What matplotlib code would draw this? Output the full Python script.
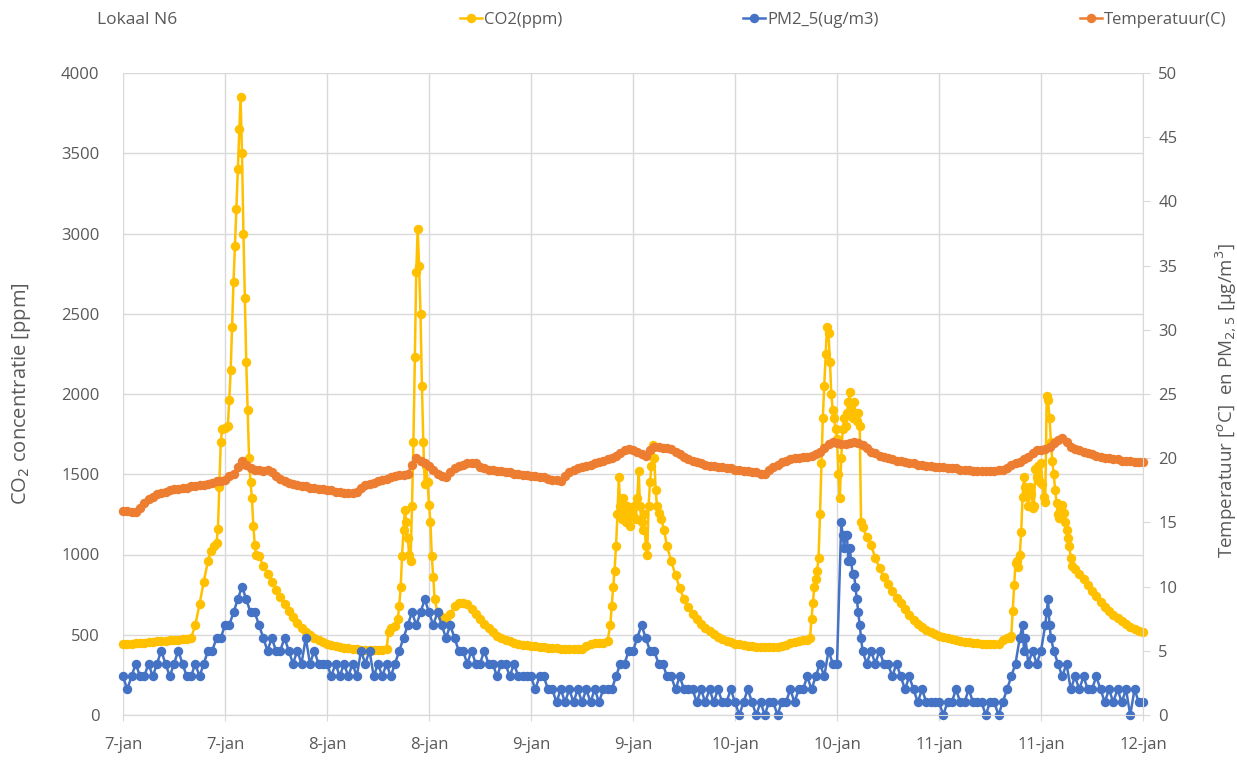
import numpy as np
import matplotlib
matplotlib.use("Agg")
import matplotlib.pyplot as plt

plt.rcParams['font.family'] = ['Open Sans', 'DejaVu Sans']

# hours since 7-jan 00:00
tick_labels = ['7-jan', '7-jan', '8-jan', '8-jan', '9-jan', '9-jan',
               '10-jan', '10-jan', '11-jan', '11-jan', '12-jan']

# temperature (C), every 30 minutes
temp_day1 = [15.9, 15.9, 15.8, 15.8, 16.1, 16.5, 16.8, 17.0, 17.2, 17.3,
             17.4, 17.5, 17.6, 17.6, 17.7, 17.7, 17.8, 17.8, 17.9, 17.9,
             18.0, 18.1, 18.2, 18.2, 18.3, 18.6, 18.8, 19.3, 19.8, 19.5,
             19.2, 19.1, 19.1, 19.0, 19.1, 18.9, 18.6, 18.4, 18.2, 18.1,
             18.0, 17.9, 17.8, 17.8, 17.7, 17.7, 17.6, 17.6]
temp_day2 = [17.5, 17.5, 17.4, 17.4, 17.3, 17.3, 17.3, 17.4, 17.7, 17.9,
             18.0, 18.1, 18.2, 18.3, 18.4, 18.5, 18.6, 18.7, 18.7, 18.8,
             19.5, 20.0, 19.8, 19.6, 19.4, 19.1, 18.8, 18.6, 18.5, 18.9,
             19.2, 19.4, 19.5, 19.6, 19.6, 19.6, 19.3, 19.2, 19.1, 19.1,
             19.0, 19.0, 18.9, 18.9, 18.8, 18.8, 18.7, 18.7]
temp_day3 = [18.6, 18.6, 18.5, 18.5, 18.4, 18.3, 18.3, 18.2, 18.6, 18.9,
             19.1, 19.2, 19.3, 19.4, 19.5, 19.6, 19.7, 19.8, 19.9, 20.0,
             20.2, 20.4, 20.6, 20.7, 20.6, 20.5, 20.3, 20.2, 20.6, 20.9,
             20.9, 20.8, 20.8, 20.7, 20.5, 20.3, 20.1, 19.9, 19.8, 19.7,
             19.6, 19.5, 19.4, 19.4, 19.3, 19.3, 19.2, 19.2]
temp_day4 = [19.1, 19.1, 19.0, 19.0, 18.9, 18.9, 18.8, 18.8, 19.1, 19.3,
             19.5, 19.7, 19.8, 19.9, 20.0, 20.0, 20.1, 20.1, 20.2, 20.3,
             20.5, 20.8, 21.1, 21.3, 21.2, 21.1, 21.1, 21.2, 21.3, 21.2,
             21.0, 20.8, 20.5, 20.4, 20.2, 20.1, 20.0, 19.9, 19.8, 19.8,
             19.7, 19.6, 19.6, 19.5, 19.5, 19.4, 19.4, 19.3]
temp_day5 = [19.3, 19.3, 19.2, 19.2, 19.2, 19.1, 19.1, 19.1, 19.0, 19.0,
             19.0, 19.0, 19.0, 19.0, 19.1, 19.1, 19.2, 19.5, 19.6, 19.7,
             19.9, 20.1, 20.4, 20.6, 20.6, 20.7, 20.9, 21.2, 21.4, 21.6,
             21.3, 20.9, 20.7, 20.6, 20.5, 20.4, 20.3, 20.2, 20.1, 20.0,
             20.0, 19.9, 19.9, 19.8, 19.8, 19.8, 19.7, 19.7, 19.7]

# PM2.5 (ug/m3), every 30 minutes
pm_day1 = [3, 2, 3, 4, 3, 3, 4, 3, 4, 5, 4, 3, 4, 5, 4, 3, 3, 4, 3, 4,
           5, 5, 6, 6, 7, 7, 8, 9, 10, 9, 8, 8, 7, 6, 5, 6, 5, 5, 6, 5,
           4, 5, 4, 6, 4, 5, 4, 4]
pm_day2 = [4, 3, 4, 3, 4, 3, 4, 3, 5, 4, 5, 3, 4, 3, 4, 3, 4, 5, 6, 7,
           8, 7, 8, 9, 8, 7, 8, 7, 6, 7, 6, 5, 5, 4, 5, 4, 4, 5, 4, 4,
           3, 4, 4, 3, 4, 3, 3, 3]
pm_day3 = [3, 2, 3, 3, 2, 2, 1, 2, 1, 2, 1, 2, 1, 2, 1, 2, 1, 2, 2, 2,
           3, 4, 4, 5, 5, 6, 7, 6, 5, 5, 4, 4, 3, 3, 2, 3, 2, 2, 2, 1,
           2, 1, 2, 1, 2, 1, 1, 2]
pm_day4 = [1, 0, 1, 2, 1, 0, 1, 0, 1, 1, 0, 1, 1, 2, 1, 2, 2, 3, 2, 3,
           4, 3, 5, 4, 4, 15, 14, 13, 11, 8, 5, 4, 5, 4, 5, 4, 4, 3, 4, 3,
           2, 3, 2, 1, 2, 1, 1, 1]
pm_day5 = [1, 0, 1, 1, 2, 1, 1, 2, 1, 1, 1, 0, 1, 1, 0, 1, 2, 3, 4, 6,
           5, 4, 5, 4, 5, 7, 7, 5, 4, 3, 4, 2, 3, 2, 3, 2, 2, 3, 2, 1,
           2, 1, 2, 1, 2, 0, 2, 1, 1]
# extra readings around the fast PM changes (hour, value)
pm_extra = [(84.67, 14), (84.83, 13), (85.17, 14), (85.33, 12), (85.67, 12),
            (85.83, 11), (86.17, 10), (86.33, 9), (86.67, 7), (86.83, 6),
            (105.83, 7), (106.17, 6), (108.67, 8), (108.83, 9), (109.17, 6)]

# CO2 (ppm), (hour, value)
co2_day1 = [(0, 440), (0.5, 442), (1, 444), (1.5, 446), (2, 448), (2.5, 450), (3, 452), (3.5, 455),
            (4, 458), (4.5, 460), (5, 463), (5.5, 465), (6, 468), (6.5, 470), (7, 472), (7.5, 474),
            (8, 478), (8.5, 560), (9, 690), (9.5, 830), (10, 960), (10.33, 1020), (10.67, 1050),
            (11, 1070), (11.17, 1160), (11.33, 1420), (11.5, 1700), (11.67, 1780), (12, 1790),
            (12.33, 1800), (12.5, 1960), (12.67, 2150), (12.83, 2420), (13, 2700), (13.17, 2920),
            (13.33, 3150), (13.5, 3400), (13.67, 3650), (13.83, 3850), (14, 3500), (14.17, 3000),
            (14.33, 2600), (14.5, 2200), (14.67, 1900), (14.83, 1600), (15, 1450), (15.17, 1350),
            (15.33, 1180), (15.5, 1060), (15.67, 1000), (16, 990), (16.5, 930), (17, 880), (17.5, 830),
            (18, 780), (18.5, 735), (19, 690), (19.5, 650), (20, 610), (20.5, 575), (21, 545),
            (21.5, 520), (22, 498), (22.5, 480), (23, 465), (23.5, 452)]
co2_day2 = [(24, 443), (24.5, 435), (25, 428), (25.5, 422), (26, 418), (26.5, 415), (27, 412),
            (27.5, 410), (28, 408), (28.5, 407), (29, 406), (29.5, 405), (30, 405), (30.5, 406),
            (31, 410), (31.25, 520), (31.5, 540), (32, 555), (32.33, 600), (32.5, 680), (32.67, 800),
            (32.83, 990), (33, 1150), (33.17, 1280), (33.33, 1200), (33.5, 1100), (33.67, 1000),
            (33.83, 960), (34, 1300), (34.17, 1700), (34.33, 2230), (34.5, 2760), (34.67, 3030),
            (34.83, 2800), (35, 2500), (35.17, 2050), (35.33, 1700), (35.5, 1440), (35.67, 1550),
            (35.83, 1450), (36, 1310), (36.17, 1200), (36.33, 990), (36.5, 860), (36.67, 720),
            (37, 640), (37.5, 610), (38, 600), (38.5, 630), (39, 680), (39.5, 700), (40, 700),
            (40.5, 690), (41, 660), (41.5, 630), (42, 600), (42.5, 570), (43, 540), (43.5, 515),
            (44, 495), (44.5, 480), (45, 468), (45.5, 458), (46, 450), (46.5, 444), (47, 438),
            (47.5, 434)]
co2_day3 = [(48, 430), (48.5, 427), (49, 424), (49.5, 421), (50, 419), (50.5, 417), (51, 415),
            (51.5, 413), (52, 412), (52.5, 411), (53, 410), (53.5, 410), (54, 412), (54.5, 430),
            (55, 445), (55.5, 447), (56, 448), (56.5, 450), (57, 460), (57.33, 560), (57.5, 680),
            (57.67, 800), (57.83, 900), (58, 1050), (58.17, 1250), (58.33, 1480), (58.5, 1300),
            (58.67, 1220), (58.83, 1350), (59, 1250), (59.17, 1200), (59.33, 1300), (59.5, 1250),
            (59.67, 1180), (59.83, 1280), (60, 1240), (60.17, 1300), (60.33, 1220), (60.5, 1350),
            (60.67, 1520), (60.83, 1300), (61, 1200), (61.17, 1150), (61.33, 1250), (61.5, 1050),
            (61.67, 1000), (61.83, 1300), (62, 1450), (62.17, 1550), (62.33, 1680), (62.5, 1600),
            (62.67, 1400), (62.83, 1300), (63, 1260), (63.33, 1220), (63.67, 1150), (64, 1050),
            (64.5, 960), (65, 870), (65.5, 790), (66, 720), (66.5, 670), (67, 630), (67.5, 600),
            (68, 570), (68.5, 545), (69, 525), (69.5, 505), (70, 488), (70.5, 475), (71, 463),
            (71.5, 452)]
co2_day4 = [(72, 445), (72.5, 440), (73, 436), (73.5, 432), (74, 428), (74.5, 425), (75, 423),
            (75.5, 422), (76, 422), (76.5, 423), (77, 425), (77.5, 428), (78, 435), (78.5, 448),
            (79, 455), (79.5, 460), (80, 465), (80.5, 470), (80.83, 480), (81, 600), (81.17, 700),
            (81.33, 800), (81.5, 850), (81.67, 900), (81.83, 980), (82, 1250), (82.17, 1570),
            (82.33, 1850), (82.5, 2050), (82.67, 2250), (82.83, 2420), (83, 2380), (83.17, 2200),
            (83.33, 2000), (83.5, 1900), (83.67, 1850), (83.83, 1780), (84, 1720), (84.17, 1500),
            (84.33, 1350), (84.5, 1600), (84.67, 1780), (84.83, 1850), (85, 1800), (85.17, 1880),
            (85.33, 1950), (85.5, 2010), (85.67, 1900), (85.83, 1850), (86, 1950), (86.17, 1880),
            (86.33, 1830), (86.5, 1880), (86.67, 1800), (86.83, 1200), (87, 1170), (87.5, 1110),
            (88, 1060), (88.5, 980), (89, 915), (89.5, 860), (90, 815), (90.5, 770), (91, 730),
            (91.5, 695), (92, 660), (92.5, 625), (93, 595), (93.5, 570), (94, 548), (94.5, 530),
            (95, 515), (95.5, 503)]
co2_day5 = [(96, 493), (96.5, 485), (97, 478), (97.5, 472), (98, 466), (98.5, 461), (99, 457),
            (99.5, 453), (100, 450), (100.5, 447), (101, 445), (101.5, 442), (102, 440), (102.5, 440),
            (103, 445), (103.5, 470), (104, 478), (104.33, 482), (104.5, 490), (104.67, 650),
            (104.83, 810), (105, 950), (105.17, 960), (105.33, 920), (105.5, 1000), (105.67, 1140),
            (105.83, 1360), (106, 1480), (106.17, 1420), (106.33, 1380), (106.5, 1300), (106.67, 1420),
            (106.83, 1380), (107, 1290), (107.17, 1300), (107.33, 1530), (107.5, 1480), (107.67, 1550),
            (107.83, 1450), (108, 1570), (108.17, 1440), (108.33, 1360), (108.5, 1330), (108.67, 1990),
            (108.83, 1960), (109, 1850), (109.17, 1700), (109.33, 1580), (109.5, 1500), (109.67, 1400),
            (109.83, 1320), (110, 1250), (110.17, 1230), (110.33, 1300), (110.5, 1310), (110.67, 1260),
            (110.83, 1200), (111, 1150), (111.17, 1100), (111.33, 1050), (111.5, 980), (111.67, 930),
            (112, 910), (112.5, 880), (113, 850), (113.5, 810), (114, 775), (114.5, 740), (115, 705),
            (115.5, 675), (116, 648), (116.5, 625), (117, 605), (117.5, 585), (118, 565), (118.5, 548),
            (119, 535), (119.5, 522), (120, 515)]

YELLOW = '#FFC000'
BLUE = '#4472C4'
ORANGE = '#ED7D31'
GRID = '#D9D9D9'
TXT = '#595959'

# build the series
temp = np.array(temp_day1 + temp_day2 + temp_day3 + temp_day4 + temp_day5)
temp_t = np.arange(len(temp)) * 0.5

pm_base = pm_day1 + pm_day2 + pm_day3 + pm_day4 + pm_day5
pm_pts = sorted([(i * 0.5, v) for i, v in enumerate(pm_base)] + pm_extra)
pm_t = np.array([p[0] for p in pm_pts])
pm = np.array([p[1] for p in pm_pts])

co2_pts = co2_day1 + co2_day2 + co2_day3 + co2_day4 + co2_day5
co2_t = np.array([p[0] for p in co2_pts])
co2 = np.array([p[1] for p in co2_pts])

fig = plt.figure(figsize=(12.37, 7.6), dpi=100)
ax1 = fig.add_axes([123 / 1237, 45 / 760, 1020 / 1237, 642 / 760])
ax2 = ax1.twinx()

style = dict(marker='o', markersize=6.8, markeredgewidth=0, linewidth=1.8, clip_on=False)
h_co2, = ax1.plot(co2_t, co2, color=YELLOW, **style)
h_pm, = ax2.plot(pm_t, pm, color=BLUE, **style)
h_temp, = ax2.plot(temp_t, temp, color=ORANGE, **style)

ax1.set_xlim(0, 120)
ax1.set_ylim(0, 4000)
ax2.set_ylim(0, 50)
ax1.set_xticks(np.arange(0, 121, 12))
ax1.set_xticklabels(tick_labels)
ax1.set_yticks(np.arange(0, 4001, 500))
ax2.set_yticks(np.arange(0, 51, 5))

ax1.set_axisbelow(True)
ax1.grid(True, color=GRID, linewidth=1)
for ax in (ax1, ax2):
    for s in ('top', 'left'):
        ax.spines[s].set_visible(False)
    ax.spines['bottom'].set_color(GRID)
    ax.spines['right'].set_color(GRID)
ax1.spines['right'].set_visible(False)

ax1.tick_params(axis='x', length=4, color=GRID, labelsize=12, labelcolor=TXT, pad=12)
ax1.tick_params(axis='y', length=0, labelsize=12, labelcolor=TXT, pad=17)
ax2.tick_params(axis='y', length=5, color=GRID, labelsize=12, labelcolor=TXT, pad=6)

ax1.set_ylabel('CO$_2$ concentratie [ppm]', fontsize=14.5, color=TXT)
ax1.yaxis.set_label_coords(-0.088, 0.50)
ax2.set_ylabel('Temperatuur [$^{o}$C]  en PM$_{2,5}$ [µg/m$^3$]', fontsize=13.5, color=TXT)
ax2.yaxis.set_label_coords(1.069, 0.49)

fig.text(97 / 1237, 1 - 20 / 760, 'Lokaal N6', fontsize=12.5, color=TXT, va='center')
for h, lab, x in ((h_co2, 'CO2(ppm)', 460), (h_pm, 'PM2_5(ug/m3)', 743), (h_temp, 'Temperatuur(C)', 1080)):
    fig.legend([h], [lab], loc='center left', bbox_to_anchor=(x / 1237, 1 - 20 / 760),
               frameon=False, borderpad=0, borderaxespad=0, handlelength=1.3,
               handletextpad=0.15, fontsize=12, labelcolor=TXT, numpoints=1)

fig.savefig('out.png', dpi=100)
